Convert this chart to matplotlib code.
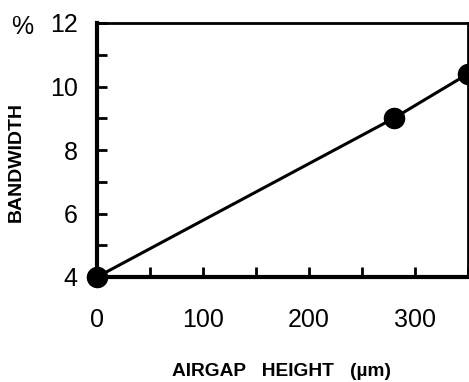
import matplotlib
matplotlib.use("Agg")
import matplotlib.pyplot as plt
from matplotlib.ticker import MultipleLocator

plt.rcParams['font.family'] = ['Liberation Sans', 'DejaVu Sans']

airgap_um = [0, 280, 350]
bandwidth_pct = [4.0, 9.0, 10.4]

fig = plt.figure(figsize=(4.69, 3.82), dpi=100)
ax = fig.add_axes([97 / 469, 1 - 277 / 382, 371 / 469, 254 / 382])

ax.plot(airgap_um, bandwidth_pct, color="black", lw=2.2, marker="o",
        markersize=14.5, clip_on=False, zorder=5)

ax.set_xlim(0, 350)
ax.set_ylim(4, 12)
ax.xaxis.set_major_locator(MultipleLocator(100))
ax.xaxis.set_minor_locator(MultipleLocator(50))
ax.yaxis.set_major_locator(MultipleLocator(2))
ax.yaxis.set_minor_locator(MultipleLocator(1))
ax.tick_params(which="both", direction="in", length=7, width=2,
               labelsize=18, top=False, right=False)
ax.tick_params(axis="x", pad=22)
ax.tick_params(axis="y", pad=14)

ax.spines["left"].set_linewidth(3)
ax.spines["bottom"].set_linewidth(3)
ax.spines["top"].set_linewidth(2)
ax.spines["right"].set_linewidth(2)

fig.text(281 / 469, 1 - 372 / 382, "AIRGAP   HEIGHT   (µm)", ha="center", va="center",
         fontsize=13.8, fontweight="bold")
fig.text(16 / 469, 1 - 162 / 382, "BANDWIDTH", ha="center", va="center",
         rotation=90, fontsize=14, fontweight="bold")
fig.text(22 / 469, 1 - 27 / 382, "%", ha="center", va="center", fontsize=18)

fig.savefig("out.png", dpi=100)
